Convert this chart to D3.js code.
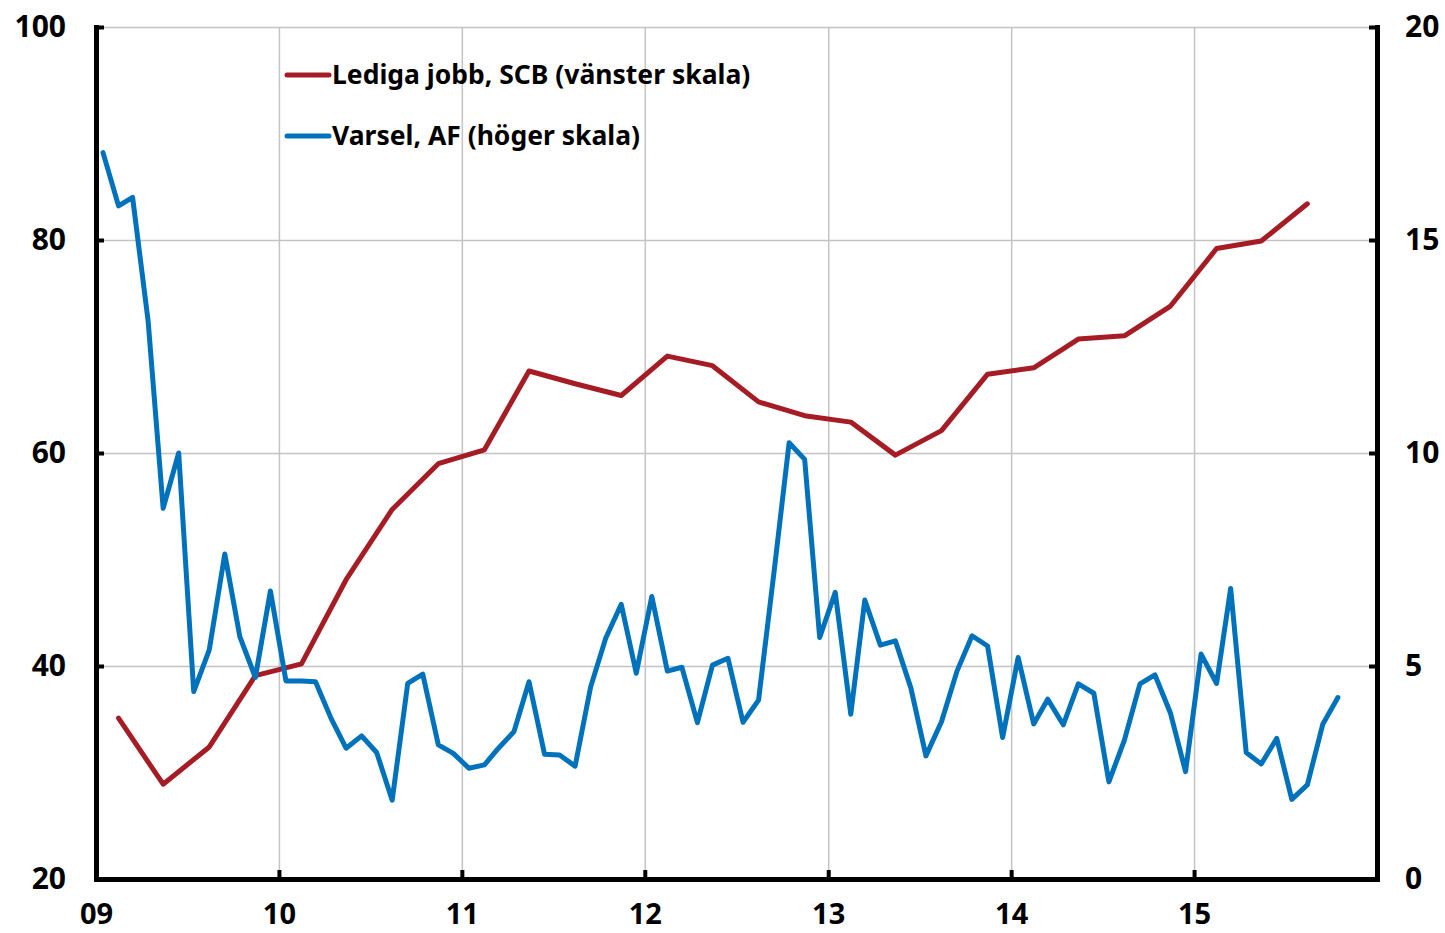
<!DOCTYPE html>
<html>
<head>
<meta charset="utf-8">
<script src="https://cdn.jsdelivr.net/npm/d3@7"></script>
<style>
  body { margin: 0; background: #fff; }
</style>
</head>
<body>
<div id="chart"></div>
<script>
// Lediga jobb (SCB), kvartal, vänster skala
var quarters = ["2009K1", "2009K2", "2009K3", "2009K4",
  "2010K1", "2010K2", "2010K3", "2010K4",
  "2011K1", "2011K2", "2011K3", "2011K4",
  "2012K1", "2012K2", "2012K3", "2012K4",
  "2013K1", "2013K2", "2013K3", "2013K4",
  "2014K1", "2014K2", "2014K3", "2014K4",
  "2015K1", "2015K2", "2015K3"]
var ledigaJobb = [35.1, 28.9, 32.4, 39.1,
  40.2, 48.1, 54.7, 59.0,
  60.3, 67.7, 66.5, 65.4,
  69.1, 68.2, 64.8, 63.5,
  62.9, 59.8, 62.1, 67.4,
  68.0, 70.7, 71.0, 73.8,
  79.2, 79.9, 83.4]

// Varsel (AF), månad, höger skala
var months = [
  "2009-01", "2009-02", "2009-03", "2009-04", "2009-05", "2009-06", "2009-07", "2009-08", "2009-09", "2009-10", "2009-11", "2009-12",
  "2010-01", "2010-02", "2010-03", "2010-04", "2010-05", "2010-06", "2010-07", "2010-08", "2010-09", "2010-10", "2010-11", "2010-12",
  "2011-01", "2011-02", "2011-03", "2011-04", "2011-05", "2011-06", "2011-07", "2011-08", "2011-09", "2011-10", "2011-11", "2011-12",
  "2012-01", "2012-02", "2012-03", "2012-04", "2012-05", "2012-06", "2012-07", "2012-08", "2012-09", "2012-10", "2012-11", "2012-12",
  "2013-01", "2013-02", "2013-03", "2013-04", "2013-05", "2013-06", "2013-07", "2013-08", "2013-09", "2013-10", "2013-11", "2013-12",
  "2014-01", "2014-02", "2014-03", "2014-04", "2014-05", "2014-06", "2014-07", "2014-08", "2014-09", "2014-10", "2014-11", "2014-12",
  "2015-01", "2015-02", "2015-03", "2015-04", "2015-05", "2015-06", "2015-07", "2015-08", "2015-09", "2015-10"]
var varsel = [
  17.05, 15.8, 16.0, 13.1, 8.7, 10.0, 4.4, 5.38, 7.63, 5.69, 4.73, 6.76,
  4.65, 4.65, 4.63, 3.77, 3.07, 3.36, 2.97, 1.85, 4.59, 4.81, 3.15, 2.95,
  2.60, 2.68, 3.07, 3.46, 4.63, 2.93, 2.91, 2.65, 4.51, 5.65, 6.45, 4.83,
  6.63, 4.88, 4.97, 3.67, 5.02, 5.18, 3.68, 4.20, 7.22, 10.24, 9.85, 5.67,
  6.73, 3.87, 6.55, 5.49, 5.59, 4.48, 2.89, 3.69, 4.88, 5.71, 5.47, 3.32,
  5.20, 3.64, 4.22, 3.62, 4.58, 4.36, 2.28, 3.26, 4.58, 4.79, 3.89, 2.52,
  5.28, 4.59, 6.82, 2.97, 2.70, 3.30, 1.87, 2.21, 3.64, 4.26]

var yearTicks = ["09", "10", "11", "12", "13", "14", "15"]
var leftTicks = [20, 40, 60, 80, 100]
var rightTicks = [0, 5, 10, 15, 20]
var legendLabels = ["Lediga jobb, SCB (vänster skala)", "Varsel, AF (höger skala)"]

var red = "#a51c24", blue = "#0072bb"
var font = "Noto Sans"

var margin = { top: 27, right: 68, bottom: 54, left: 96 },
  width = 1445 - margin.left - margin.right,
  height = 933 - margin.top - margin.bottom;

var svg = d3.select("#chart").append("svg")
  .attr("width", 1445)
  .attr("height", 933)
  .append("g")
  .attr("transform", "translate(" + margin.left + "," + margin.top + ")");

var x = d3.scaleTime()
  .domain([new Date(2009, 0, 1), new Date(2016, 0, 1)])
  .range([0, width]);

var yLeft = d3.scaleLinear().domain([20, 100]).range([height, 0]);
var yRight = d3.scaleLinear().domain([0, 20]).range([height, 0]);

// quarter -> middle of the quarter, month -> middle of the month
var quarterDate = (q) => new Date(+q.slice(0, 4), (+q.slice(5) - 1) * 3 + 1, 15)
var monthDate = (m) => new Date(+m.slice(0, 4), +m.slice(5) - 1, 15)
var yearDate = (t) => new Date(2000 + (+t), 0, 1)

// gridlines
svg.append("g")
  .attr("class", "grid")
  .call(d3.axisLeft(yLeft).tickValues(leftTicks).tickSize(-width).tickFormat(""))
svg.append("g")
  .attr("class", "grid")
  .attr("transform", "translate(0," + height + ")")
  .call(d3.axisBottom(x).tickValues(yearTicks.map(yearDate).concat([new Date(2016, 0, 1)])).tickSize(-height).tickFormat(""))
svg.selectAll(".grid path").remove()
svg.selectAll(".grid line")
  .attr("stroke", "#c3c3c3")
  .attr("stroke-width", 1.5)

// series
var lineLeft = d3.line()
  .x(function (d, i) { return x(quarterDate(quarters[i])); })
  .y(function (d) { return yLeft(d); })
var lineRight = d3.line()
  .x(function (d, i) { return x(monthDate(months[i])); })
  .y(function (d) { return yRight(d); })

svg.append("path")
  .datum(ledigaJobb)
  .attr("fill", "none")
  .attr("stroke", red)
  .attr("stroke-width", 5)
  .attr("stroke-linejoin", "round")
  .attr("stroke-linecap", "round")
  .attr("d", lineLeft)

svg.append("path")
  .datum(varsel)
  .attr("fill", "none")
  .attr("stroke", blue)
  .attr("stroke-width", 5)
  .attr("stroke-linejoin", "round")
  .attr("stroke-linecap", "round")
  .attr("d", lineRight)

// axes
var leftAxis = d3.axisLeft(yLeft).tickValues(leftTicks).tickSizeInner(-8).tickSizeOuter(0).tickPadding(30)
var rightAxis = d3.axisRight(yRight).tickValues(rightTicks).tickSizeInner(-8).tickSizeOuter(0).tickPadding(28)
var bottomAxis = d3.axisBottom(x).tickValues(yearTicks.map(yearDate)).tickSizeInner(-9).tickSizeOuter(0).tickPadding(24)
  .tickFormat(function (d, i) { return yearTicks[i]; })

svg.append("g").attr("class", "axis").call(leftAxis)
svg.append("g").attr("class", "axis").attr("transform", "translate(" + width + ",0)").call(rightAxis)
svg.append("g").attr("class", "axis x").attr("transform", "translate(0," + height + ")").call(bottomAxis)

svg.selectAll(".axis path")
  .attr("stroke", "#000")
  .attr("stroke-width", 5)
  .attr("stroke-linecap", "square")
svg.selectAll(".axis line")
  .attr("stroke", "#000")
  .attr("stroke-width", 4)
svg.selectAll(".axis text")
  .attr("font-family", font)
  .attr("font-weight", "bold")
  .attr("font-size", "30px")
  .attr("fill", "#000")
svg.selectAll(".axis.x text")
  .attr("font-size", "29px")

// legend
var legend = svg.selectAll(".legend")
  .data(legendLabels)
  .enter().append("g")
  .attr("class", "legend")
  .attr("transform", function (d, i) { return "translate(" + (287 - margin.left) + "," + (75 + i * 61 - margin.top) + ")"; })

legend.append("line")
  .attr("x1", 0)
  .attr("x2", 42)
  .attr("stroke", function (d, i) { return i == 0 ? red : blue; })
  .attr("stroke-width", 5)
  .attr("stroke-linecap", "round")

legend.append("text")
  .attr("x", 45)
  .attr("dy", ".35em")
  .attr("font-family", font)
  .attr("font-weight", "bold")
  .attr("font-size", "26.5px")
  .attr("fill", "#000")
  .text(function (d) { return d; })
</script>
</body>
</html>
